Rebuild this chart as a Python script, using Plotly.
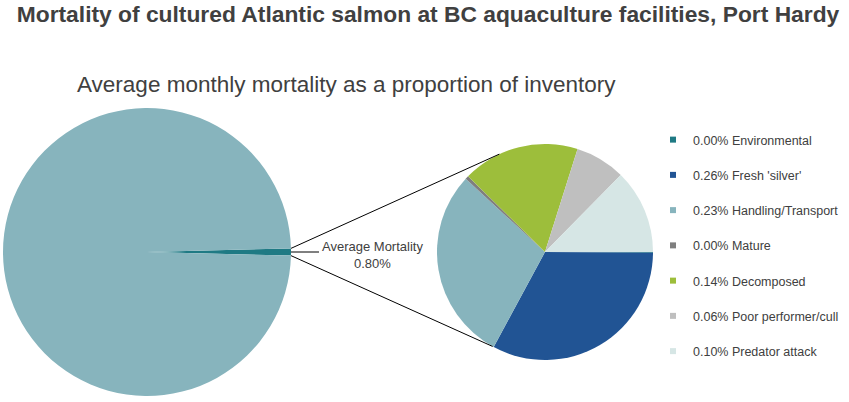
import math
import plotly.graph_objects as go

# data
total_labels = ["Average Mortality", "Surviving inventory"]
total_values = [0.80, 99.20]

causes = ["Environmental", "Fresh 'silver'", "Handling/Transport", "Mature",
          "Decomposed", "Poor performer/cull", "Predator attack"]
cause_values = [0.001, 0.262, 0.232, 0.004, 0.140, 0.060, 0.101]

main_color = "#87B4BD"
cause_colors = ["#1F7A84", "#215494", "#87B4BD", "#7F7F7F",
                "#9DBE3B", "#BFBFBF", "#D6E6E5"]

W, H = 849, 402
FONT = "Liberation Sans, Arial, sans-serif"
TXT = "#404040"

# geometry (pixels)
big_cx, big_cy, big_r = 147, 252, 144
sm_cx, sm_cy, sm_r = 545, 252, 108


def dom(cx, cy, r):
    return dict(x=[(cx - r) / W, (cx + r) / W], y=[1 - (cy + r) / H, 1 - (cy - r) / H])


def px(x, y):
    return x / W, 1 - y / H


half = total_values[0] / sum(total_values) * 360 / 2

fig = go.Figure()

fig.add_trace(go.Pie(
    labels=total_labels, values=total_values, domain=dom(big_cx, big_cy, big_r),
    marker=dict(colors=[cause_colors[0], main_color]),
    sort=False, direction="clockwise", rotation=90 - half,
    textinfo="none", showlegend=False, hoverinfo="label+percent",
))

fig.add_trace(go.Pie(
    labels=causes, values=cause_values, domain=dom(sm_cx, sm_cy, sm_r),
    marker=dict(colors=cause_colors),
    sort=False, direction="clockwise", rotation=90,
    textinfo="none", showlegend=False, hoverinfo="label+value",
))

# legend entries
for name, val, col in zip(causes, cause_values, cause_colors):
    fig.add_trace(go.Scatter(
        x=[None], y=[None], mode="markers", name=f"{val:.2f}% {name}",
        legendgroup=name, marker=dict(symbol="square", size=6, color=col),
    ))

# connector lines from the mortality wedge to the breakdown pie
shapes = []
ends = [(-half, 245), (half, 119)]
for a_big, a_sm in ends:
    x0 = big_cx + big_r * math.cos(math.radians(a_big))
    y0 = big_cy + big_r * math.sin(math.radians(a_big))
    x1 = sm_cx + sm_r * math.cos(math.radians(a_sm))
    y1 = sm_cy + sm_r * math.sin(math.radians(a_sm))
    p0, p1 = px(x0, y0), px(x1, y1)
    shapes.append(dict(type="line", xref="paper", yref="paper",
                       x0=p0[0], y0=p0[1], x1=p1[0], y1=p1[1],
                       line=dict(color="black", width=1)))
lx0, ly = px(big_cx + big_r, big_cy)
lx1, _ = px(big_cx + big_r + 28, big_cy)
shapes.append(dict(type="line", xref="paper", yref="paper", x0=lx0, y0=ly, x1=lx1, y1=ly,
                   line=dict(color="black", width=1)))

annotations = [
    dict(text="Average monthly mortality as a proportion of inventory",
         x=px(346, 0)[0], y=px(0, 85)[1], xref="paper", yref="paper",
         xanchor="center", yanchor="middle",
         showarrow=False, font=dict(size=22.5, color=TXT, family=FONT)),
    dict(text=f"Average Mortality<br>{sum(cause_values):.2f}%",
         x=px(372, 0)[0], y=px(0, 255)[1], xref="paper", yref="paper",
         xanchor="center", yanchor="middle",
         showarrow=False, font=dict(size=13, color=TXT, family=FONT)),
]

fig.update_layout(
    width=W, height=H,
    margin=dict(l=0, r=0, t=0, b=0),
    paper_bgcolor="white", plot_bgcolor="white",
    font=dict(family=FONT, color=TXT),
    title=dict(text="<b>Mortality of cultured Atlantic salmon at BC aquaculture facilities, Port Hardy</b>",
               x=428 / W, xanchor="center", y=1 - 14 / H, yanchor="middle",
               font=dict(size=22.8, color=TXT, family=FONT)),
    xaxis=dict(visible=False), yaxis=dict(visible=False),
    legend=dict(x=653 / W, xanchor="left", y=1 - 125 / H, yanchor="top",
                traceorder="grouped", tracegroupgap=16,
                font=dict(size=12.5, color=TXT, family=FONT)),
    shapes=shapes, annotations=annotations,
)

fig.write_html("out.html", config={"displayModeBar": False},
               post_script="document.body.style.margin='0';")
